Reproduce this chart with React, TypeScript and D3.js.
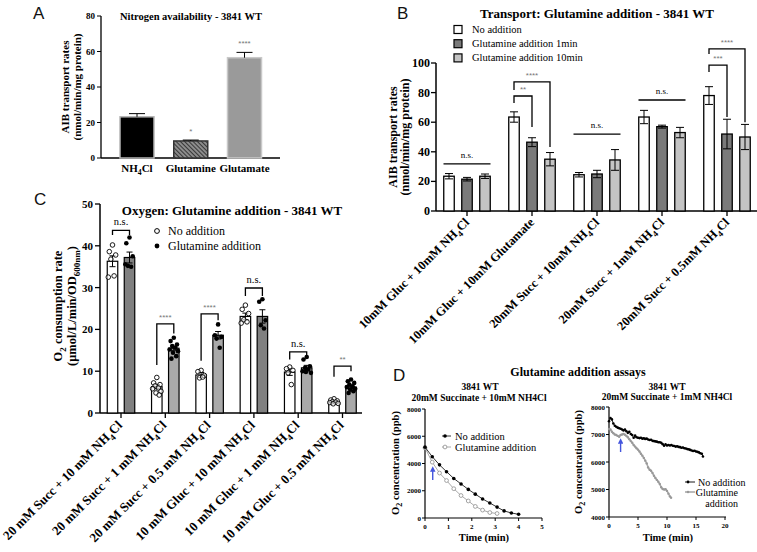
import React from "react";
import * as d3 from "d3";

const SERIF = "'Liberation Serif', 'DejaVu Serif', serif";
const SANS = "'Liberation Sans', 'DejaVu Sans', sans-serif";

// ---------- Panel A ----------
const aCategories = ["NH4Cl", "Glutamine", "Glutamate"];
const aValues = [23.2, 9.6, 56.5];
const aErrors = [1.8, 0.5, 3.0];
const aStars = ["", "*", "****"];
const aTicks = [0, 20, 40, 60, 80];

// ---------- Panel B ----------
const bGroups = [
  "10mM Gluc + 10mM NH4Cl",
  "10mM Gluc + 10mM Glutamate",
  "20mM Succ + 10mM NH4Cl",
  "20mM Succ + 1mM NH4Cl",
  "20mM Succ + 0.5mM NH4Cl",
];
const bSeries = ["No addition", "Glutamine addition 1min", "Glutamine addition 10min"];
const bNoAddition = [23.5, 63.5, 24.5, 63.5, 78];
const bGln1 = [21.5, 46.5, 25, 57, 52];
const bGln10 = [23.5, 35, 34.5, 53, 50];
const bNoAdditionErr = [1.8, 3.5, 1.5, 4.5, 6];
const bGln1Err = [1.2, 3, 2.5, 1, 10];
const bGln10Err = [1.5, 4.5, 7, 3.5, 8.5];
const bTicks = [0, 20, 40, 60, 80, 100];
const bNsGroups = [0, 2, 3];
const bNsLevels = [31.8, 52, 75];
const bSigGroups = [1, 1, 4, 4];
const bSigTo = [1, 2, 1, 2];
const bSigTop = [77.7, 87.2, 98.6, 109.5];
const bSigLeft = [73, 81.8, 94, 106];
const bSigRight = [56.8, 43.2, 63.5, 60];
const bSigLabels = ["**", "****", "***", "****"];

// ---------- Panel C ----------
const cGroups = [
  "20 mM Succ + 10 mM NH4Cl",
  "20 mM Succ + 1 mM NH4Cl",
  "20 mM Succ + 0.5 mM NH4Cl",
  "10 mM Gluc + 10 mM NH4Cl",
  "10 mM Gluc + 1 mM NH4Cl",
  "10 mM Gluc + 0.5 mM NH4Cl",
];
const cSeries = ["No addition", "Glutamine addition"];
const cNoAddMean = [36.3, 6.3, 9.1, 23.1, 9.8, 2.7];
const cNoAddSE = [1.3, 0.5, 0.6, 0.8, 0.8, 0.15];
const cGlnMean = [37.2, 15.5, 18.6, 23.1, 10.8, 6.2];
const cGlnSE = [1.3, 0.5, 0.9, 1.6, 0.6, 0.35];
const cNoAddDots = [
  [40.2, 38.6, 37.8, 36.8, 32.8, 32.5],
  [8.5, 7.2, 6.8, 6.5, 6.0, 5.8, 5.2, 4.8, 4.3],
  [10.2, 9.9, 9.0, 8.4, 8.6],
  [25.8, 24.8, 23.8, 22.3, 21.8, 21.5],
  [11.0, 10.6, 10.2, 9.6, 6.8],
  [3.4, 3.1, 2.9, 2.7, 2.6, 2.5, 2.3, 2.2],
];
const cGlnDots = [
  [42.0, 40.6, 37.5, 35.2, 35.0, 35.6],
  [18.0, 17.2, 16.4, 16.0, 15.6, 15.2, 14.8, 14.4, 13.6, 13.0],
  [21.2, 18.6, 18.2, 17.8, 15.6],
  [27.2, 26.6, 22.2, 21.0, 20.2],
  [13.4, 12.8, 11.2, 10.8, 10.4, 10.0, 9.6, 9.8],
  [8.0, 7.6, 7.2, 6.8, 6.4, 6.2, 5.8, 5.6, 5.2, 4.8],
];
const cDarkGroups = [0, 3];
const cTicks = [0, 10, 20, 30, 40, 50];
const cSigTop = [43.7, 21.3, 23.7, 29.9, 14.6, 11.2];
const cSigLeft = [42.6, 11.5, 12.5, 28.0, 12.8, 8.7];
const cSigRight = [42.6, 19.0, 22.2, 28.0, 13.4, 10.0];
const cSigLabels = ["n.s.", "****", "****", "n.s.", "n.s.", "**"];

// ---------- Panel D ----------
const dLeftBlackT = [0, 0.31, 0.62, 0.92, 1.23, 1.54, 1.85, 2.15, 2.46, 2.77, 3.08, 3.38, 3.69, 4.0];
const dLeftBlackV = [5200, 4500, 3900, 3400, 2900, 2500, 2100, 1750, 1400, 1100, 800, 520, 370, 270];
const dLeftGrayT = [0, 0.31, 0.62, 0.92, 1.23, 1.54, 1.85, 2.15, 2.46, 2.77, 3.08];
const dLeftGrayV = [5150, 4100, 3300, 2750, 2150, 1650, 1250, 850, 580, 400, 330];
const dLeftXTicks = [0, 1, 2, 3, 4, 5];
const dLeftYTicks = [0, 2000, 4000, 6000, 8000];
const dRightBlackT = [
  0, 0.25, 0.5, 0.75, 1, 1.25, 1.5, 1.75, 2, 2.25, 2.5, 2.75, 3, 3.25, 3.5, 3.75, 4, 4.25, 4.5, 4.75,
  5, 5.25, 5.5, 5.75, 6, 6.25, 6.5, 6.75, 7, 7.25, 7.5, 7.75, 8, 8.25, 8.5, 8.75, 9, 9.25, 9.5, 9.75,
  10, 10.25, 10.5, 10.75, 11, 11.25, 11.5, 11.75, 12, 12.25, 12.5, 12.75, 13, 13.25, 13.5, 13.75,
  14, 14.25, 14.5, 14.75, 15, 15.25, 15.5, 15.75, 16, 16.2,
];
const dRightBlackV = [
  7480, 7600, 7550, 7400, 7320, 7280, 7250, 7230, 7210, 7180, 7150, 7180, 7120, 7060, 7100, 7020, 6980, 6880, 6960, 6900,
  6880, 6870, 6880, 6850, 6860, 6840, 6850, 6820, 6800, 6810, 6770, 6760, 6750, 6740, 6720, 6720, 6700, 6650, 6590, 6640,
  6600, 6620, 6600, 6620, 6590, 6580, 6560, 6570, 6550, 6540, 6520, 6530, 6500, 6490, 6470, 6460,
  6440, 6420, 6400, 6410, 6380, 6370, 6350, 6320, 6300, 6200,
];
const dRightGrayT = [
  0, 0.25, 0.5, 0.75, 1, 1.25, 1.5, 1.75, 2, 2.25, 2.5, 2.75, 3, 3.25, 3.5, 3.75, 4, 4.25, 4.5, 4.75,
  5, 5.25, 5.5, 5.75, 6, 6.25, 6.5, 6.75, 7, 7.25, 7.5, 7.75, 8, 8.25, 8.5, 8.75, 9, 9.25, 9.5, 9.75,
  10, 10.25, 10.5, 10.7,
];
const dRightGrayV = [
  7200, 7180, 7100, 7050, 7000, 6980, 6950, 6920, 6980, 7000, 7020, 6990, 6950, 6900, 6830, 6760, 6700, 6620, 6560, 6500,
  6450, 6380, 6300, 6230, 6150, 6050, 5950, 5800, 5720, 5680, 5600, 5500, 5420, 5350, 5280, 5200, 5080, 5020, 5000, 5010,
  4950, 4850, 4750, 4700,
];
const dRightXTicks = [0, 5, 10, 15, 20];
const dRightYTicks = [4000, 5000, 6000, 7000, 8000];
const dLegend = ["No addition", "Glutamine addition"];

const jitter = [0, -3.2, 3.2, -1.6, 1.6, -4.2, 4.2, -0.8, 2.4, -2.4];

function chem(text: string, size: number) {
  const parts = text.split("NH4");
  if (parts.length === 1) return text;
  return [
    parts[0] + "NH",
    <tspan key="s" dy={size * 0.3} fontSize={size * 0.7}>4</tspan>,
    <tspan key="r" dy={-size * 0.3}>{parts[1]}</tspan>,
  ];
}

function ErrBar({ x, y1, y2, w, stroke = "#000" }: any) {
  return (
    <g stroke={stroke} strokeWidth={1}>
      <line x1={x} x2={x} y1={y1} y2={y2} />
      <line x1={x - w / 2} x2={x + w / 2} y1={y1} y2={y1} />
      <line x1={x - w / 2} x2={x + w / 2} y1={y2} y2={y2} />
    </g>
  );
}

export default function App() {
  // ===== Panel A =====
  const yA = d3.scaleLinear().domain([0, 80]).range([158, 16]);
  const xA = d3.scalePoint<string>().domain(aCategories).range([137, 244.5]);
  const aFills = ["#000", "url(#hatch)", "#9a9a9a"];
  const aStrokes = ["#b5b5b5", "#333", "#c8c8c8"];

  // ===== Panel B =====
  const yB = d3.scaleLinear().domain([0, 100]).range([211, 63]);
  const xB = d3.scaleBand<string>().domain(bGroups).range([434.5, 759.5]);
  const xBi = d3.scalePoint<string>().domain(bSeries).range([-18, 18]);
  const bFills = ["#ffffff", "#7a7a7a", "#c4c4c4"];
  const bMeans = [bNoAddition, bGln1, bGln10];
  const bErrs = [bNoAdditionErr, bGln1Err, bGln10Err];
  const bc = (g: number) => (xB(bGroups[g]) as number) + xB.bandwidth() / 2;

  // ===== Panel C =====
  const yC = d3.scaleLinear().domain([0, 50]).range([413, 204]);
  const xC = d3.scalePoint<string>().domain(cGroups).range([121, 342.5]);
  const xCi = d3.scalePoint<string>().domain(cSeries).range([-8.5, 8.5]);
  const cMeans = [cNoAddMean, cGlnMean];
  const cSEs = [cNoAddSE, cGlnSE];
  const cDots = [cNoAddDots, cGlnDots];

  // ===== Panel D =====
  const xDL = d3.scaleLinear().domain([0, 5]).range([425, 542]);
  const yDL = d3.scaleLinear().domain([0, 8000]).range([518, 409]);
  const xDR = d3.scaleLinear().domain([0, 20]).range([609, 725]);
  const yDR = d3.scaleLinear().domain([4000, 8000]).range([517, 407]);
  const lineDL = d3.line<number>().x((_, i) => xDL(dLeftBlackT[i])).y((v) => yDL(v));
  const lineDLg = d3.line<number>().x((_, i) => xDL(dLeftGrayT[i])).y((v) => yDL(v));
  const lineDR = d3.line<number>().x((_, i) => xDR(dRightBlackT[i])).y((v) => yDR(v));
  const lineDRg = d3.line<number>().x((_, i) => xDR(dRightGrayT[i])).y((v) => yDR(v));

  const boldTick = { fontFamily: SERIF, fontWeight: 700, fill: "#000" } as const;

  return (
    <svg
      width={757}
      height={552}
      viewBox="0 0 757 552"
      style={{ position: "absolute", left: 0, top: 0, background: "#fff" }}
    >
      <defs>
        <pattern id="hatch" width={3} height={3} patternUnits="userSpaceOnUse" patternTransform="rotate(-45)">
          <rect width={3} height={3} fill="#8c8c8c" />
          <line x1={0} y1={0} x2={0} y2={3} stroke="#222" strokeWidth={1.6} />
        </pattern>
        <marker id="arrowBlue" viewBox="0 0 10 10" refX={5} refY={5} markerWidth={4} markerHeight={4} orient="auto">
          <path d="M0,0 L10,5 L0,10 z" fill="#4455dd" />
        </marker>
      </defs>
      <rect width={757} height={552} fill="#fff" />

      {/* Panel letters */}
      <g fontFamily={SANS} fontSize={17} fill="#111">
        <text x={33} y={19}>A</text>
        <text x={397} y={19}>B</text>
        <text x={34} y={205}>C</text>
        <text x={393} y={381}>D</text>
      </g>

      {/* ================= Panel A ================= */}
      <g>
        <text x={191} y={20} textAnchor="middle" fontFamily={SERIF} fontWeight={700} fontSize={10.5}>
          Nitrogen availability - 3841 WT
        </text>
        <g fontFamily={SERIF} fontWeight={700} fontSize={11} textAnchor="middle">
          <text transform={`translate(69,87) rotate(-90)`}>AIB transport rates</text>
          <text transform={`translate(81,87) rotate(-90)`}>(nmol/min/mg protein)</text>
        </g>
        <line x1={101} x2={101} y1={yA(80)} y2={yA(0)} stroke="#000" strokeWidth={1.3} />
        <line x1={101} x2={280} y1={yA(0)} y2={yA(0)} stroke="#000" strokeWidth={1.3} />
        {aTicks.map((t) => (
          <g key={t}>
            <line x1={97} x2={101} y1={yA(t)} y2={yA(t)} stroke="#000" />
            <text x={95} y={yA(t) + 3} textAnchor="end" fontSize={9} {...boldTick}>{t}</text>
          </g>
        ))}
        {aCategories.map((c, i) => {
          const cx = xA(c) as number;
          return (
            <g key={c}>
              <rect x={cx - 17} width={34} y={yA(aValues[i])} height={yA(0) - yA(aValues[i])}
                fill={aFills[i]} stroke={aStrokes[i]} strokeWidth={1.5} />
              <line x1={cx} x2={cx} y1={yA(aValues[i])} y2={yA(aValues[i] + aErrors[i])} stroke="#000" />
              <line x1={cx - 8} x2={cx + 8} y1={yA(aValues[i] + aErrors[i])} y2={yA(aValues[i] + aErrors[i])} stroke="#000" />
              {aStars[i] && (
                <text x={cx} y={yA(aValues[i] + aErrors[i]) - 6} textAnchor="middle" fontSize={8} fill="#777" fontFamily={SANS}>
                  {aStars[i]}
                </text>
              )}
              <text x={cx} y={172} textAnchor="middle" fontSize={11} {...boldTick}>{chem(c, 11)}</text>
            </g>
          );
        })}
      </g>

      {/* ================= Panel B ================= */}
      <g>
        <text x={597} y={18} textAnchor="middle" fontFamily={SERIF} fontWeight={700} fontSize={13}>
          Transport: Glutamine addition - 3841 WT
        </text>
        {bSeries.map((s, i) => (
          <g key={s}>
            <rect x={454} y={25.5 + i * 14.2} width={8} height={8} fill={bFills[i]} stroke="#000" strokeWidth={1.2} />
            <text x={472} y={33 + i * 14.2} fontFamily={SERIF} fontSize={10.5} fill="#000">{s}</text>
          </g>
        ))}
        <g fontFamily={SERIF} fontWeight={700} fontSize={12} textAnchor="middle">
          <text transform={`translate(397,137) rotate(-90)`}>AIB transport rates</text>
          <text transform={`translate(409,137) rotate(-90)`}>(nmol/min/mg protein)</text>
        </g>
        <line x1={436} x2={436} y1={yB(100)} y2={yB(0)} stroke="#000" strokeWidth={1.5} />
        <line x1={436} x2={757} y1={yB(0)} y2={yB(0)} stroke="#000" strokeWidth={1.5} />
        {bTicks.map((t) => (
          <g key={t}>
            <line x1={431} x2={436} y1={yB(t)} y2={yB(t)} stroke="#000" strokeWidth={1.3} />
            <text x={430} y={yB(t) + 4} textAnchor="end" fontSize={12} {...boldTick}>{t}</text>
          </g>
        ))}
        {bGroups.map((g, gi) => {
          const cx = bc(gi);
          return (
            <g key={g}>
              <line x1={cx} x2={cx} y1={yB(0)} y2={yB(0) + 5} stroke="#000" strokeWidth={1.3} />
              {bSeries.map((s, si) => {
                const x = cx + (xBi(s) as number);
                const m = bMeans[si][gi];
                const e = bErrs[si][gi];
                return (
                  <g key={s}>
                    <rect x={x - 5.25} width={10.5} y={yB(m)} height={yB(0) - yB(m)} fill={bFills[si]} stroke="#000" strokeWidth={1.3} />
                    <ErrBar x={x} y1={yB(m + e)} y2={yB(m - e)} w={8} />
                  </g>
                );
              })}
              <text
                transform={`translate(${cx + 3},${yB(0) + 12}) rotate(-45)`}
                textAnchor="end"
                fontSize={12.5}
                {...boldTick}
              >
                {chem(g, 12.5)}
              </text>
            </g>
          );
        })}
        {bNsGroups.map((g, i) => {
          const cx = bc(g);
          return (
            <g key={"ns" + i}>
              <line x1={cx - 23.5} x2={cx + 23.5} y1={yB(bNsLevels[i])} y2={yB(bNsLevels[i])} stroke="#000" strokeWidth={1.3} />
              <text x={cx} y={yB(bNsLevels[i]) - 6} textAnchor="middle" fontFamily={SERIF} fontSize={9} fill="#000">n.s.</text>
            </g>
          );
        })}
        {bSigGroups.map((g, i) => {
          const cx = bc(g);
          const x1 = cx + (xBi(bSeries[0]) as number);
          const x2 = cx + (xBi(bSeries[bSigTo[i]]) as number);
          return (
            <g key={"sig" + i}>
              <path
                d={`M${x1},${yB(bSigLeft[i])} V${yB(bSigTop[i])} H${x2} V${yB(bSigRight[i])}`}
                fill="none" stroke="#000" strokeWidth={1.3}
              />
              <text x={(x1 + x2) / 2} y={yB(bSigTop[i]) - 4} textAnchor="middle" fontFamily={SANS} fontSize={8} fill="#777">
                {bSigLabels[i]}
              </text>
            </g>
          );
        })}
      </g>

      {/* ================= Panel C ================= */}
      <g>
        <text x={232} y={215} textAnchor="middle" fontFamily={SERIF} fontWeight={700} fontSize={13}>
          Oxygen: Glutamine addition - 3841 WT
        </text>
        <circle cx={157} cy={231} r={2.4} fill="#fff" stroke="#000" strokeWidth={1} />
        <circle cx={157} cy={246} r={2.4} fill="#000" />
        <text x={168} y={235} fontFamily={SERIF} fontSize={12} fill="#000">{cSeries[0]}</text>
        <text x={168} y={250} fontFamily={SERIF} fontSize={12} fill="#000">{cSeries[1]}</text>
        <g fontFamily={SERIF} fontWeight={700} fontSize={12.5} textAnchor="middle">
          <text transform={`translate(62,306) rotate(-90)`}>
            O<tspan dy={3.5} fontSize={9}>2</tspan><tspan dy={-3.5}> consumption rate</tspan>
          </text>
          <text transform={`translate(76,306) rotate(-90)`}>
            (μmol/L/min/OD<tspan dy={3.5} fontSize={9}>600nm</tspan><tspan dy={-3.5}>)</tspan>
          </text>
        </g>
        <line x1={100} x2={100} y1={yC(50)} y2={yC(0)} stroke="#000" strokeWidth={1.5} />
        <line x1={100} x2={362} y1={yC(0)} y2={yC(0)} stroke="#000" strokeWidth={1.5} />
        {cTicks.map((t) => (
          <g key={t}>
            <line x1={95} x2={100} y1={yC(t)} y2={yC(t)} stroke="#000" strokeWidth={1.3} />
            <text x={93} y={yC(t) + 4} textAnchor="end" fontSize={11} {...boldTick}>{t}</text>
          </g>
        ))}
        {cGroups.map((g, gi) => {
          const cx = xC(g) as number;
          const dark = cDarkGroups.includes(gi);
          const x0 = cx + (xCi(cSeries[0]) as number);
          const x1 = cx + (xCi(cSeries[1]) as number);
          return (
            <g key={g}>
              <line x1={cx} x2={cx} y1={yC(0)} y2={yC(0) + 5} stroke="#000" strokeWidth={1.3} />
              {cSeries.map((s, si) => {
                const x = cx + (xCi(s) as number);
                const m = cMeans[si][gi];
                const e = cSEs[si][gi];
                const fill = si === 0 ? "#fff" : dark ? "#808080" : "#a9a9a9";
                return (
                  <g key={s}>
                    <rect x={x - 5.25} width={10.5} y={yC(m)} height={yC(0) - yC(m)} fill={fill} stroke="#000" strokeWidth={1.2} />
                    <ErrBar x={x} y1={yC(m + e)} y2={yC(m - e)} w={6} />
                    {cDots[si][gi].map((v, k) => (
                      <circle key={k} cx={x + jitter[k % jitter.length]} cy={yC(v)} r={2.3}
                        fill={si === 0 ? "#fff" : "#000"} stroke="#000" strokeWidth={si === 0 ? 0.9 : 0} fillOpacity={si === 0 ? 0.6 : 1} />
                    ))}
                  </g>
                );
              })}
              <path
                d={`M${x0},${yC(cSigLeft[gi])} V${yC(cSigTop[gi])} H${x1} V${yC(cSigRight[gi])}`}
                fill="none" stroke="#000" strokeWidth={1.3}
              />
              {cSigLabels[gi] === "n.s." ? (
                <text x={cx} y={yC(cSigTop[gi]) - 5} textAnchor="middle" fontFamily={SERIF} fontSize={10.5} fill="#000">n.s.</text>
              ) : (
                <text x={cx} y={yC(cSigTop[gi]) - 4} textAnchor="middle" fontFamily={SANS} fontSize={8} fill="#777">{cSigLabels[gi]}</text>
              )}
              <text
                transform={`translate(${cx + 2},${yC(0) + 13}) rotate(-45)`}
                textAnchor="end"
                fontSize={13}
                {...boldTick}
              >
                {chem(g, 13)}
              </text>
            </g>
          );
        })}
      </g>

      {/* ================= Panel D ================= */}
      <g>
        <text x={578} y={376} textAnchor="middle" fontFamily={SERIF} fontWeight={700} fontSize={12}>
          Glutamine addition assays
        </text>
        {/* Left plot */}
        <g fontFamily={SERIF} fontWeight={700} fontSize={9.5} textAnchor="middle">
          <text x={480} y={390}>3841 WT</text>
          <text x={479} y={401}>20mM Succinate + 10mM NH4Cl</text>
        </g>
        <text transform={`translate(399,463) rotate(-90)`} textAnchor="middle" fontFamily={SERIF} fontWeight={700} fontSize={10.5}>
          O<tspan dy={3} fontSize={8}>2</tspan><tspan dy={-3}> concentration (ppb)</tspan>
        </text>
        <line x1={425} x2={425} y1={yDL(8000)} y2={yDL(0)} stroke="#000" strokeWidth={1.2} />
        <line x1={425} x2={542} y1={yDL(0)} y2={yDL(0)} stroke="#000" strokeWidth={1.2} />
        {dLeftYTicks.map((t) => (
          <g key={t}>
            <line x1={422} x2={425} y1={yDL(t)} y2={yDL(t)} stroke="#000" />
            <text x={421} y={yDL(t) + 2.5} textAnchor="end" fontSize={7} {...boldTick}>{t}</text>
          </g>
        ))}
        {dLeftXTicks.map((t) => (
          <g key={t}>
            <line x1={xDL(t)} x2={xDL(t)} y1={518} y2={521} stroke="#000" />
            <text x={xDL(t)} y={529} textAnchor="middle" fontSize={7} {...boldTick}>{t}</text>
          </g>
        ))}
        <text x={484} y={541} textAnchor="middle" fontFamily={SERIF} fontWeight={700} fontSize={10.5}>Time (min)</text>
        <path d={lineDLg(dLeftGrayV) as string} fill="none" stroke="#aaa" strokeWidth={1} />
        {dLeftGrayV.map((v, i) => (
          <circle key={i} cx={xDL(dLeftGrayT[i])} cy={yDL(v)} r={1.9} fill="#fff" stroke="#999" strokeWidth={0.9} />
        ))}
        <path d={lineDL(dLeftBlackV) as string} fill="none" stroke="#000" strokeWidth={0.8} />
        {dLeftBlackV.map((v, i) => (
          <circle key={i} cx={xDL(dLeftBlackT[i])} cy={yDL(v)} r={1.8} fill="#000" />
        ))}
        <line x1={xDL(0.33)} x2={xDL(0.33)} y1={480} y2={469} stroke="#4455dd" strokeWidth={1.4} markerEnd="url(#arrowBlue)" />
        {/* left legend */}
        <line x1={442} x2={451} y1={436} y2={436} stroke="#000" strokeWidth={0.8} />
        <circle cx={445} cy={436} r={1.8} fill="#000" />
        <line x1={442} x2={451} y1={447} y2={447} stroke="#aaa" strokeWidth={1} />
        <circle cx={445} cy={447} r={1.9} fill="#fff" stroke="#999" strokeWidth={0.9} />
        <text x={455} y={439.5} fontFamily={SERIF} fontSize={10.5} fill="#000">{dLegend[0]}</text>
        <text x={455} y={450.5} fontFamily={SERIF} fontSize={10.5} fill="#000">{dLegend[1]}</text>

        {/* Right plot */}
        <g fontFamily={SERIF} fontWeight={700} fontSize={9.5} textAnchor="middle">
          <text x={667} y={390}>3841 WT</text>
          <text x={667} y={400}>20mM Succinate + 1mM NH4Cl</text>
        </g>
        <text transform={`translate(582,462) rotate(-90)`} textAnchor="middle" fontFamily={SERIF} fontWeight={700} fontSize={10.5}>
          O<tspan dy={3} fontSize={8}>2</tspan><tspan dy={-3}> concentration (ppb)</tspan>
        </text>
        <line x1={609} x2={609} y1={yDR(8000)} y2={yDR(4000)} stroke="#000" strokeWidth={1.2} />
        <line x1={609} x2={726} y1={yDR(4000)} y2={yDR(4000)} stroke="#000" strokeWidth={1.2} />
        {dRightYTicks.map((t) => (
          <g key={t}>
            <line x1={606} x2={609} y1={yDR(t)} y2={yDR(t)} stroke="#000" />
            <text x={605} y={yDR(t) + 2.5} textAnchor="end" fontSize={7} {...boldTick}>{t}</text>
          </g>
        ))}
        {dRightXTicks.map((t) => (
          <g key={t}>
            <line x1={xDR(t)} x2={xDR(t)} y1={517} y2={520} stroke="#000" />
            <text x={xDR(t)} y={528} textAnchor="middle" fontSize={7} {...boldTick}>{t}</text>
          </g>
        ))}
        <text x={668} y={541} textAnchor="middle" fontFamily={SERIF} fontWeight={700} fontSize={10.5}>Time (min)</text>
        <path d={lineDRg(dRightGrayV) as string} fill="none" stroke="#aaa" strokeWidth={1.6} />
        {dRightGrayV.map((v, i) => (
          <circle key={i} cx={xDR(dRightGrayT[i])} cy={yDR(v)} r={1.2} fill="#999" />
        ))}
        <path d={lineDR(dRightBlackV) as string} fill="none" stroke="#000" strokeWidth={0.9} />
        {dRightBlackV.map((v, i) => (
          <circle key={i} cx={xDR(dRightBlackT[i])} cy={yDR(v)} r={1.3} fill="#000" />
        ))}
        <line x1={xDR(2)} x2={xDR(2)} y1={452} y2={441} stroke="#4455dd" strokeWidth={1.4} markerEnd="url(#arrowBlue)" />
        {/* right legend */}
        <line x1={685} x2={695} y1={482} y2={482} stroke="#000" strokeWidth={0.9} />
        <circle cx={688} cy={482} r={1.4} fill="#000" />
        <line x1={685} x2={695} y1={492} y2={492} stroke="#aaa" strokeWidth={1.6} />
        <circle cx={688} cy={492} r={1.3} fill="#999" />
        <text x={698} y={485.5} fontFamily={SERIF} fontSize={10} fill="#000">{dLegend[0]}</text>
        <text x={738} y={496} textAnchor="end" fontFamily={SERIF} fontSize={10} fill="#000">Glutamine</text>
        <text x={738} y={507} textAnchor="end" fontFamily={SERIF} fontSize={10} fill="#000">addition</text>
      </g>
    </svg>
  );
}
